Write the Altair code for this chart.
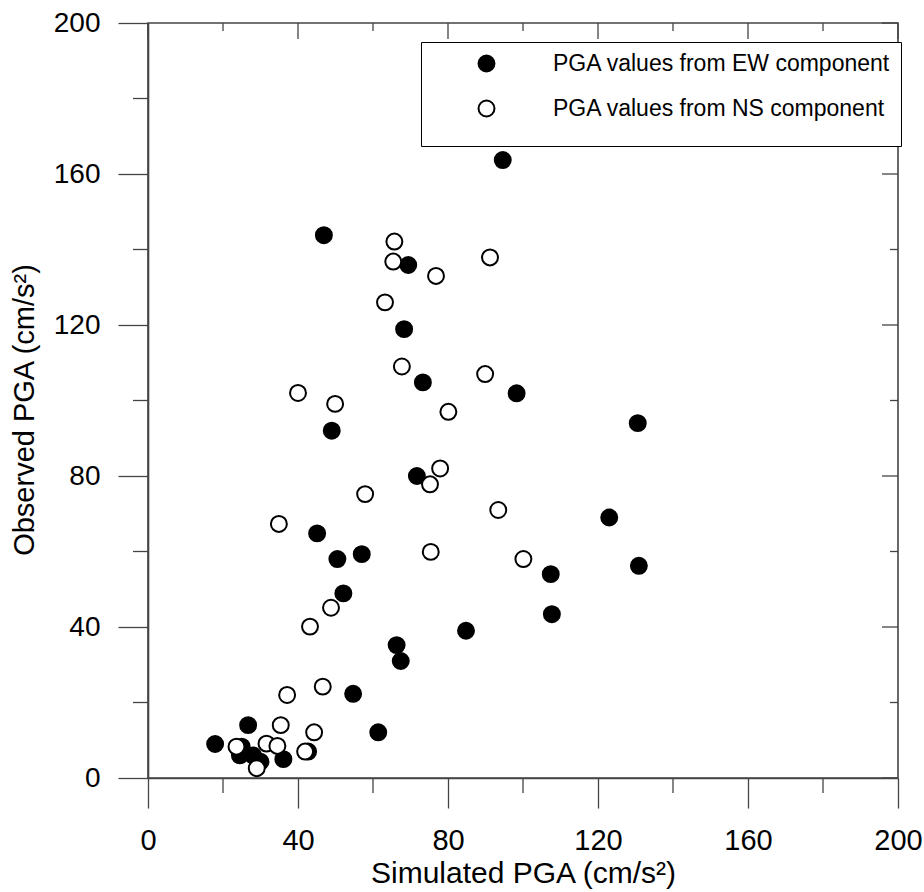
import altair as alt
import pandas as pd

# Simulated vs observed peak ground acceleration (cm/s^2)
ew_sim = [94.6, 46.9, 69.4, 68.3, 73.3, 98.3, 49.0, 130.6, 71.7, 123.0, 45.1, 50.5,
          57.0, 107.4, 130.9, 52.1, 84.8, 107.7, 66.3, 67.4, 54.7, 61.4, 17.9, 26.7,
          25.0, 24.5, 28.0, 30.0, 36.1, 42.7]
ew_obs = [163.7, 143.8, 135.9, 118.9, 104.8, 101.9, 92.0, 94.0, 80.0, 69.0, 64.8, 58.0,
          59.3, 54.0, 56.2, 48.9, 39.0, 43.4, 35.2, 31.0, 22.3, 12.1, 9.0, 14.0,
          8.3, 6.0, 6.0, 4.3, 5.0, 7.0]

ns_sim = [65.7, 65.4, 76.8, 91.2, 63.2, 67.7, 89.9, 40.0, 49.9, 80.1, 77.9, 75.2,
          57.9, 93.4, 34.9, 75.4, 100.1, 48.8, 43.2, 46.6, 37.1, 35.4, 44.3, 23.6,
          31.6, 34.5, 29.0, 41.9]
ns_obs = [142.1, 136.8, 133.0, 137.9, 126.0, 109.0, 107.0, 102.0, 99.1, 97.0, 82.0, 77.8,
          75.2, 71.0, 67.3, 59.9, 58.0, 45.1, 40.1, 24.2, 22.0, 14.0, 12.1, 8.3,
          9.1, 8.5, 2.6, 7.0]

series_names = ["PGA values from EW component", "PGA values from NS component"]
series_fill = ["black", "white"]

major_ticks = [0, 40, 80, 120, 160, 200]
minor_ticks = [20, 60, 100, 140, 180]

points_df = pd.DataFrame({
    "sim": ew_sim + ns_sim,
    "obs": ew_obs + ns_obs,
    "series": [series_names[0]] * len(ew_sim) + [series_names[1]] * len(ns_sim),
})
major_df = pd.DataFrame({"v": major_ticks})
minor_df = pd.DataFrame({"v": minor_ticks})

W, H = 750, 755
FRAME = "#444444"
SANS = "Liberation Sans"

scale = alt.Scale(domain=[0, 200], nice=False, zero=False)

x_axis = alt.Axis(
    values=major_ticks, title="Simulated PGA (cm/s²)", tickSize=30, tickWidth=1.3,
    tickColor=FRAME, domainColor=FRAME, domainWidth=1.6, grid=False,
    labelFont=SANS, labelFontSize=29, labelColor="black", labelPadding=18,
    labelFlush=False, titleFont=SANS, titleFontSize=30, titleFontWeight="normal",
    titleColor="black", titleX=W / 2, titleY=104, titleBaseline="alphabetic")
y_axis = alt.Axis(
    values=major_ticks, title="Observed PGA (cm/s²)", tickSize=30, tickWidth=1.3,
    tickColor=FRAME, domainColor=FRAME, domainWidth=1.6, grid=False,
    labelFont=SANS, labelFontSize=28, labelColor="black", labelPadding=18,
    labelFlush=False, titleFont=SANS, titleFontSize=29, titleFontWeight="normal",
    titleColor="black", titleX=-115, titleY=H / 2 + 9, titleBaseline="alphabetic")


def xenc(field):
    return alt.X(field, type="quantitative", scale=scale, axis=x_axis)


def yenc(field):
    return alt.Y(field, type="quantitative", scale=scale, axis=y_axis)


points = alt.Chart(points_df).mark_point(
    filled=True, size=254, stroke="black", strokeWidth=2, opacity=1
).encode(
    x=xenc("sim"),
    y=yenc("obs"),
    fill=alt.Fill("series:N", scale=alt.Scale(domain=series_names, range=series_fill),
                  legend=alt.Legend(
                      title=" ", titleOrient="bottom", titleFontSize=12, titlePadding=4,
                      orient="none", legendX=273, legendY=19, padding=10,
                      strokeColor="black", fillColor="white",
                      symbolType="circle", symbolSize=254, symbolStrokeColor="black",
                      symbolStrokeWidth=2, symbolOffset=44, labelOffset=55,
                      labelFont=SANS, labelFontSize=23, labelColor="black",
                      rowPadding=20, labelLimit=0)),
)


def rule(df, **enc):
    return alt.Chart(df).mark_rule(color=FRAME, strokeWidth=1.3).encode(**enc)


# minor ticks outside the bottom and left axes
bottom_minor = rule(minor_df, x=xenc("v"), y=alt.value(H), y2=alt.value(H + 15))
left_minor = rule(minor_df, y=yenc("v"), x=alt.value(0), x2=alt.value(-15))

# inward ticks along the top and right edges
top_major = rule(major_df, x=xenc("v"), y=alt.value(0), y2=alt.value(16))
top_minor = rule(minor_df, x=xenc("v"), y=alt.value(0), y2=alt.value(8))
right_major = rule(major_df, y=yenc("v"), x=alt.value(W), x2=alt.value(W - 16))
right_minor = rule(minor_df, y=yenc("v"), x=alt.value(W), x2=alt.value(W - 8))

chart = alt.layer(
    points, bottom_minor, left_minor, top_major, top_minor, right_major, right_minor
).properties(
    width=W, height=H,
    padding={"left": 148, "top": 23, "right": 26, "bottom": 114},
    autosize=alt.AutoSizeParams(type="none"),
    background="white",
).configure_view(stroke=FRAME, strokeWidth=1.6)

chart.save("out.html", embed_options={"renderer": "svg", "actions": False})
